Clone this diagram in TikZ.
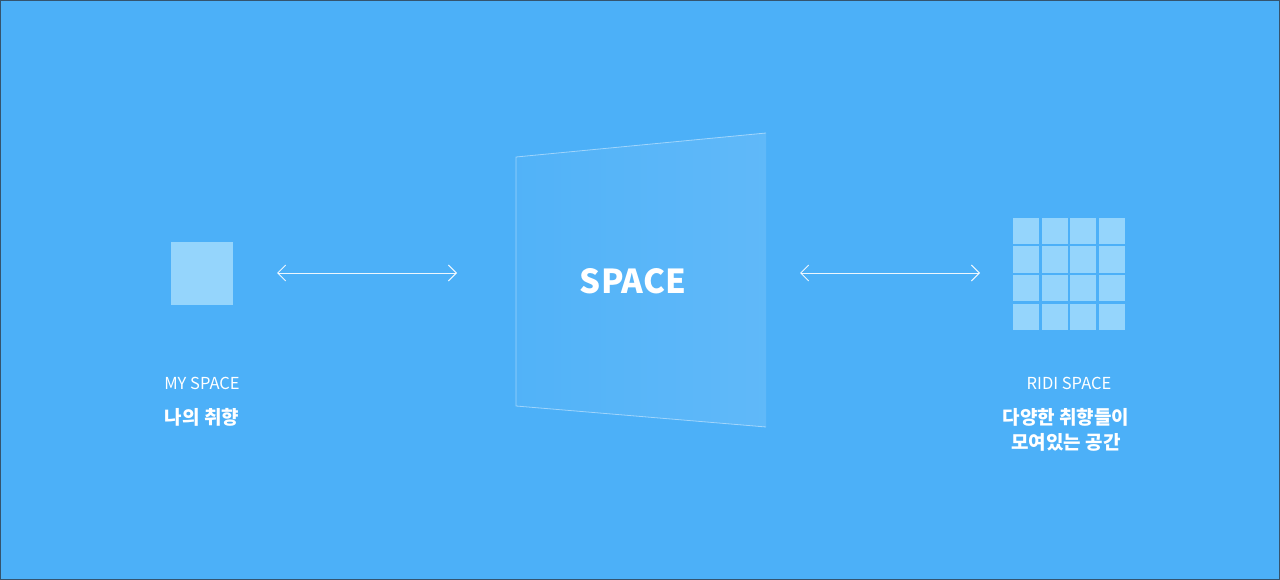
\documentclass[tikz,border=0pt]{standalone}
\usepackage{fontspec}
\setmainfont{Noto Sans CJK KR}
\usetikzlibrary{arrows.meta}
\definecolor{skyblue}{RGB}{76,176,248}
\definecolor{tileblue}{RGB}{149,213,252}
\definecolor{framegrey}{RGB}{52,84,110}

\begin{document}
\begin{tikzpicture}[x=1pt, y=-1pt,
  caption/.style={text=white, font=\fontsize{16.5}{19}\selectfont},
  korean/.style={text=white, align=center, font=\bfseries\fontsize{19}{25}\selectfont},
  link/.style={white, opacity=0.9, line width=0.9pt, {Straight Barb[length=8pt, width=16pt]}-{Straight Barb[length=8pt, width=16pt]}}]
\useasboundingbox (0,0) rectangle (1280,580);
\fill[skyblue] (0,0) rectangle (1280,580);
\draw[framegrey, line width=1.2pt] (0.6,0.6) rectangle (1279.4,579.4);

% my space
\node[fill=tileblue, minimum width=62pt, minimum height=62pt, inner sep=0pt] (mine) at (202,273.5) {};
\node[caption] (mycap) at (202,383) {MY SPACE};
\node[korean] (mytaste) at (202,417) {나의 취향};

% the middle panel
\shade[left color=white!3!skyblue, right color=white!11!skyblue] (516,157) -- (766,133) -- (766,427) -- (516,406) -- cycle;
\draw[white, opacity=0.45, line width=0.8pt] (766,133) -- (516,157) -- (516,406) -- (766,427);
\node[text=white, font=\bfseries\fontsize{33}{36}\selectfont] (space) at (633,281) {SPACE};

% ridi space
\foreach \i in {0,...,3}
  \foreach \j in {0,...,3}
    \fill[tileblue] (1013+28.5*\i,218+28.5*\j) rectangle ++(26,26);
\coordinate (ridi) at (1069,274);
\node[caption] (ridicap) at (1069,383) {RIDI SPACE};
\node[korean] (ridimix) at (1066,430) {다양한 취향들이\\모여있는 공간};

\coordinate (la) at (277,273);
\coordinate (lb) at (457,273);
\coordinate (ra) at (800,273);
\coordinate (rb) at (980,273);
\draw[link] (la) -- (lb);
\draw[link] (ra) -- (rb);
\end{tikzpicture}
\end{document}
